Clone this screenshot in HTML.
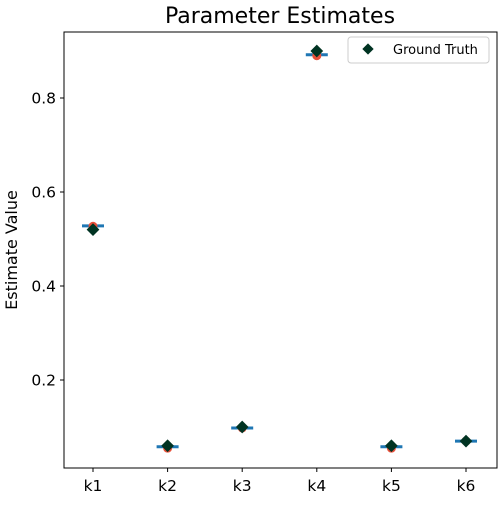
<!DOCTYPE html>
<html><head><meta charset="utf-8"><style>
body{margin:0;background:#fff;}
text{font-family:"DejaVu Sans","Liberation Sans",sans-serif;}
</style></head><body>
<svg id="chart" width="500" height="500" xmlns="http://www.w3.org/2000/svg">
<text x="280" y="23" font-size="22" text-anchor="middle">Parameter Estimates</text>
<g id="plot"></g>
<rect x="64" y="32" width="433" height="436" fill="none" stroke="#000" stroke-width="1"/>
<text transform="translate(17,250) rotate(-90)" font-size="16" text-anchor="middle">Estimate Value</text>
<g>
<rect x="348" y="37" width="141" height="26" rx="3" fill="#fff" stroke="#ccc"/>
<rect x="364" y="45" width="8" height="8" fill="#003322" transform="rotate(45 368 49)"/>
<text x="393" y="54" font-size="13">Ground Truth</text>
</g>
</svg>
<script>
const categories=["k1","k2","k3","k4","k5","k6"];
const estimates=[0.527,0.055,0.098,0.89,0.055,0.07];
const means=[0.528,0.058,0.098,0.892,0.058,0.07];
const truth=[0.52,0.06,0.1,0.9,0.06,0.07];
const yTicks=[0.2,0.4,0.6,0.8];
const NS="http://www.w3.org/2000/svg";
const x=i=>93+i*74.6;
const y=v=>98+(0.8-v)*470;
const g=document.getElementById('plot');
function mk(t,a){const e=document.createElementNS(NS,t);for(const k in a)e.setAttribute(k,a[k]);g.appendChild(e);return e;}
yTicks.forEach(v=>{
 const l=mk('line',{x1:60,x2:64,y1:y(v),y2:y(v),stroke:'#000'});
 
 
 const t=mk('text',{x:56,y:y(v)+5.5,'font-size':15.5,'text-anchor':'end'});t.textContent=v.toFixed(1);
 
 
});
categories.forEach((c,i)=>{
 const l=mk('line',{x1:x(i),x2:x(i),y1:468,y2:472,stroke:'#000'});
 
 
 const t=mk('text',{x:x(i),y:491,'font-size':15.5,'text-anchor':'middle'});t.textContent=c;
 
 
 const m=mk('line',{x1:x(i)-11,x2:x(i)+11,y1:y(means[i]),y2:y(means[i]),stroke:'#1f77b4','stroke-width':3});
 
 
 const p=mk('circle',{cx:x(i),cy:y(estimates[i]),r:4.5,fill:'#e8503a'});
 
 
 const d=mk('rect',{x:x(i)-4.5,y:y(truth[i])-4.5,width:9,height:9,fill:'#003322',transform:`rotate(45 ${x(i)} ${y(truth[i])})`});
 
 
});
</script>
</body></html>
